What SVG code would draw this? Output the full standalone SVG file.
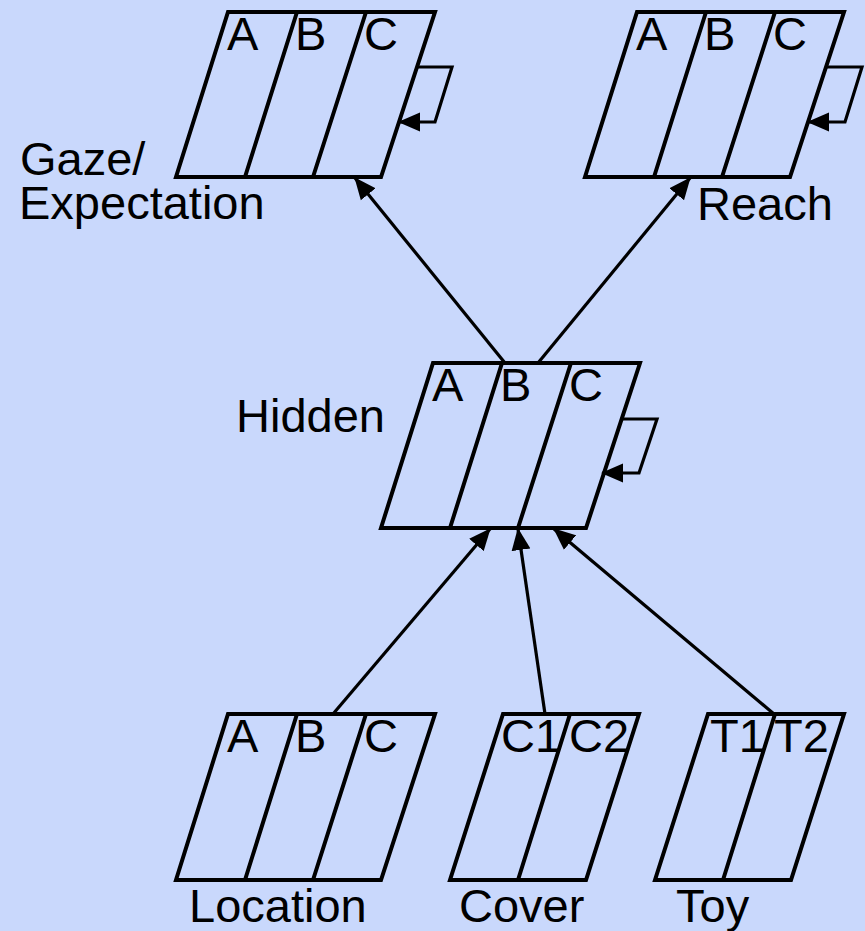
<svg xmlns="http://www.w3.org/2000/svg" width="865" height="931" viewBox="0 0 865 931">
  <style>
    .box { fill: none; stroke: #000; stroke-width: 4; stroke-linejoin: miter; }
    .conn { fill: none; stroke: #000; stroke-width: 3.2; }
    .loop { fill: none; stroke: #000; stroke-width: 3.2; stroke-linejoin: miter; }
    text { font-family: "Liberation Sans", Arial, Helvetica, sans-serif; font-size: 47px; fill: #000; }
  </style>
  <defs>
    <marker id="ah" markerUnits="userSpaceOnUse" viewBox="0 -10 22 20" refX="21" refY="0" markerWidth="22" markerHeight="20" orient="auto">
      <path d="M0,-9.5 L22,0 L0,9.5 z" fill="#000"/>
    </marker>
  </defs>
  <rect x="0" y="0" width="865" height="931" fill="#c9d8fc"/>

  <g id="connectors">
    <line class="conn" x1="505" y1="363" x2="355" y2="178" marker-end="url(#ah)"/>
    <line class="conn" x1="538" y1="363" x2="690" y2="178" marker-end="url(#ah)"/>
    <line class="conn" x1="333" y1="714" x2="490" y2="529" marker-end="url(#ah)"/>
    <line class="conn" x1="545" y1="714" x2="518" y2="529" marker-end="url(#ah)"/>
    <line class="conn" x1="774" y1="714" x2="554" y2="529" marker-end="url(#ah)"/>
    <polyline class="loop" points="418,67 452,67 435,122 399,122" marker-end="url(#ah)"/>
    <polyline class="loop" points="827,67 862,67 845,122 808,122" marker-end="url(#ah)"/>
    <polyline class="loop" points="622,419 657,419 639,473 602,473" marker-end="url(#ah)"/>
  </g>

  <g id="gaze">
    <path class="box" d="M228,12 L435,12 L381,177 L176,177 Z M297,12 L245,177 M366,12 L313,177"/>
    <text x="227" y="50">A</text>
    <text x="295" y="50">B</text>
    <text x="364" y="50">C</text>
    <text x="20" y="175">Gaze/</text>
    <text x="19" y="219">Expectation</text>
  </g>

  <g id="reach">
    <path class="box" d="M637,12 L844,12 L790,177 L585,177 Z M706,12 L654,177 M775,12 L722,177"/>
    <text x="636" y="50">A</text>
    <text x="704" y="50">B</text>
    <text x="773" y="50">C</text>
    <text x="697" y="220">Reach</text>
  </g>

  <g id="hidden">
    <path class="box" d="M433,363 L640,363 L586,528 L381,528 Z M502,363 L450,528 M571,363 L518,528"/>
    <text x="432" y="401">A</text>
    <text x="500" y="401">B</text>
    <text x="569" y="401">C</text>
    <text x="236" y="432">Hidden</text>
  </g>

  <g id="location">
    <path class="box" d="M228,714 L435,714 L381,880 L176,880 Z M297,714 L245,880 M366,714 L313,880"/>
    <text x="227" y="752">A</text>
    <text x="295" y="752">B</text>
    <text x="364" y="752">C</text>
    <text x="189" y="922">Location</text>
  </g>

  <g id="cover">
    <path class="box" d="M503,714 L639,714 L586,880 L450,880 Z M570,714 L518,880"/>
    <text x="501" y="752">C1</text>
    <text x="569" y="752">C2</text>
    <text x="459" y="922">Cover</text>
  </g>

  <g id="toy">
    <path class="box" d="M708,714 L844,714 L791,880 L655,880 Z M775,714 L723,880"/>
    <text x="710" y="752">T1</text>
    <text x="774" y="752">T2</text>
    <text x="676" y="922">Toy</text>
  </g>
</svg>
